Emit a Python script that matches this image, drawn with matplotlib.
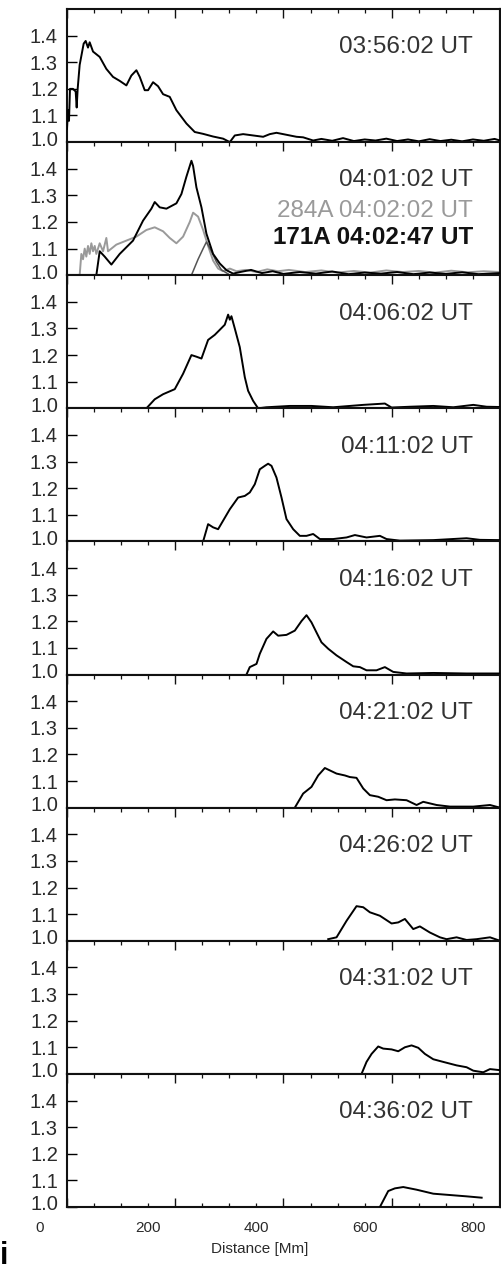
import matplotlib
matplotlib.use("Agg")
import matplotlib.pyplot as plt
from matplotlib.transforms import ScaledTranslation
from matplotlib.ticker import MultipleLocator

plt.rcParams['font.family'] = ['Liberation Sans', 'DejaVu Sans']

# ---------------- data ----------------
times = ["03:56:02 UT", "04:01:02 UT", "04:06:02 UT", "04:11:02 UT", "04:16:02 UT",
         "04:21:02 UT", "04:26:02 UT", "04:31:02 UT", "04:36:02 UT"]
label_284 = "284A 04:02:02 UT"
label_171 = "171A 04:02:47 UT"

x1 = [0, 1.8, 3.7, 5.5, 11.1, 16.0, 17.9, 19.7, 23.4, 30.8, 34.5, 38.8, 41.9, 48.1, 60.4, 72.7,
      85.0, 97.4, 109.7, 118.9, 128.2, 134.4, 143.6, 149.8, 159.0, 168.2, 177.5, 189.8, 202.1,
      220.6, 236.0, 251.5, 269.9, 288.4, 300.8, 310.0, 325.4, 343.9, 362.4, 374.7, 387.0, 399.4,
      411.7, 424.0, 436.3, 454.8, 470, 490, 510, 530, 550, 570, 590, 610, 630, 650, 670, 690,
      710, 730, 750, 770, 790, 800]
y1 = [1.05, 1.12, 1.08, 1.20, 1.20, 1.19, 1.13, 1.20, 1.29, 1.37, 1.38, 1.355, 1.375, 1.34, 1.32,
      1.275, 1.245, 1.23, 1.213, 1.25, 1.27, 1.245, 1.195, 1.195, 1.225, 1.21, 1.18, 1.17, 1.12,
      1.07, 1.038, 1.031, 1.021, 1.013, 1.0, 1.025, 1.03, 1.025, 1.02, 1.03, 1.035, 1.03, 1.025,
      1.02, 1.018, 1.006, 1.012, 1.005, 1.015, 1.004, 1.01, 1.006, 1.013, 1.004, 1.01, 1.003,
      1.011, 1.004, 1.009, 1.003, 1.01, 1.005, 1.012, 1.006]

x2 = [54.2, 60.4, 69.6, 82.0, 97.4, 122.0, 140.5, 155.9, 162.1, 171.3, 183.7, 202.1, 211.4, 220.6,
      229.9, 233.0, 239.1, 248.4, 257.6, 269.9, 282.3, 294.6, 306.9, 320, 340, 360, 380, 400, 430,
      460, 490, 520, 550, 580, 610, 640, 670, 700, 730, 760, 800]
y2 = [1.0, 1.09, 1.07, 1.04, 1.08, 1.13, 1.205, 1.25, 1.275, 1.255, 1.25, 1.27, 1.305, 1.37, 1.43,
      1.41, 1.33, 1.255, 1.156, 1.08, 1.044, 1.019, 1.006, 1.012, 1.02, 1.008, 1.015, 1.005, 1.012,
      1.006, 1.014, 1.004, 1.01, 1.006, 1.012, 1.004, 1.01, 1.005, 1.011, 1.004, 1.008]

x2_284 = [23.4, 26.5, 29.6, 32.7, 35.7, 38.8, 41.9, 45.0, 48.1, 51.2, 54.2, 60.4, 66.6, 72.7, 75.8,
          82.0, 91.2, 109.7, 128.2, 146.7, 162.1, 177.5, 189.8, 202.1, 214.5, 226.8, 233.0, 242.2,
          251.5, 260.7, 269.9, 279.2, 288.4, 300.8, 313.1, 330, 350, 370, 390, 410, 440, 470, 500,
          530, 560, 590, 620, 650, 680, 710, 740, 770, 800]
y2_284 = [1.0, 1.08, 1.06, 1.10, 1.07, 1.11, 1.08, 1.12, 1.09, 1.11, 1.08, 1.12, 1.09, 1.14, 1.09,
          1.10, 1.115, 1.13, 1.145, 1.17, 1.18, 1.165, 1.14, 1.12, 1.145, 1.20, 1.235, 1.22, 1.17,
          1.11, 1.055, 1.025, 1.015, 1.025, 1.015, 1.02, 1.012, 1.022, 1.015, 1.02, 1.012, 1.018,
          1.01, 1.016, 1.01, 1.018, 1.012, 1.016, 1.01, 1.017, 1.011, 1.015, 1.012]

x2_171 = [229.9, 242.2, 251.5, 257.6, 266.9, 276.1, 285.4, 297.7]
y2_171 = [1.0, 1.06, 1.10, 1.125, 1.09, 1.05, 1.02, 1.005]

x3 = [146.7, 162.1, 177.5, 199.1, 214.5, 229.9, 239.1, 248.4, 260.7, 273.0, 282.3, 291.5, 297.7,
      300.8, 303.8, 310.0, 319.2, 328.5, 334.6, 343.9, 353.1, 368.5, 411.7, 451.7, 491.8, 522.6,
      547.3, 587.3, 599.7, 633.6, 676.7, 713.7, 750.7, 775.3, 800]
y3 = [1.0, 1.034, 1.053, 1.072, 1.13, 1.2, 1.194, 1.187, 1.257, 1.276, 1.295, 1.314, 1.352, 1.333,
      1.346, 1.3, 1.23, 1.117, 1.066, 1.028, 1.0, 1.004, 1.009, 1.009, 1.004, 1.009, 1.013, 1.018,
      1.003, 1.006, 1.009, 1.004, 1.013, 1.006, 1.005]

x4 = [251.5, 260.7, 269.9, 279.2, 288.4, 300.8, 316.2, 328.5, 337.7, 347.0, 356.2, 365.5, 371.6,
      377.8, 387.0, 396.3, 405.5, 417.9, 430.2, 442.5, 454.8, 467.2, 491.8, 516.5, 531.9, 553.4,
      578.1, 590.4, 615.1, 676.7, 738.3, 763.0, 800]
y4 = [1.0, 1.065, 1.053, 1.046, 1.078, 1.121, 1.165, 1.171, 1.184, 1.215, 1.271, 1.284, 1.292,
      1.284, 1.24, 1.165, 1.084, 1.046, 1.021, 1.021, 1.028, 1.009, 1.009, 1.015, 1.024, 1.015,
      1.021, 1.009, 1.003, 1.005, 1.012, 1.006, 1.005]

x5 = [331.6, 337.7, 350.1, 356.2, 368.5, 380.9, 390.1, 405.5, 420.9, 433.3, 442.5, 451.7, 461.0,
      470.2, 482.6, 498.0, 516.5, 528.8, 541.1, 553.4, 571.9, 587.3, 602.7, 627.4, 676.7, 738.3, 800]
y5 = [1.0, 1.028, 1.04, 1.078, 1.134, 1.162, 1.146, 1.149, 1.165, 1.201, 1.223, 1.196, 1.158,
      1.121, 1.097, 1.072, 1.047, 1.031, 1.028, 1.016, 1.016, 1.028, 1.01, 1.004, 1.006, 1.004, 1.004]

x6 = [420.9, 436.3, 451.7, 464.1, 476.4, 485.6, 498.0, 513.4, 522.6, 534.9, 547.3, 559.6, 575.0,
      590.4, 605.8, 627.4, 645.9, 658.2, 682.9, 707.5, 750.7, 781.5, 800]
y6 = [1.0, 1.053, 1.078, 1.121, 1.149, 1.14, 1.128, 1.121, 1.115, 1.112, 1.072, 1.047, 1.041,
      1.028, 1.031, 1.028, 1.01, 1.022, 1.01, 1.004, 1.004, 1.01, 1.0]

x7 = [482.6, 498.0, 516.5, 534.9, 547.3, 559.6, 578.1, 599.7, 612.0, 624.3, 639.7, 652.0, 670.5,
      689.0, 701.3, 719.8, 738.3, 756.8, 781.5, 800]
y7 = [1.006, 1.013, 1.075, 1.13, 1.126, 1.107, 1.094, 1.065, 1.069, 1.082, 1.044, 1.054, 1.031,
      1.013, 1.006, 1.013, 1.003, 1.006, 1.013, 1.0]

x8 = [544.2, 553.4, 562.7, 575.0, 584.2, 599.7, 612.0, 624.3, 636.6, 649.0, 661.3, 676.7, 695.2,
      719.8, 738.3, 750.7, 769.1, 781.5, 800]
y8 = [1.0, 1.045, 1.075, 1.103, 1.095, 1.092, 1.085, 1.1, 1.107, 1.098, 1.075, 1.055, 1.045,
      1.032, 1.025, 1.012, 1.006, 1.018, 1.014]

x9 = [578.1, 593.5, 605.8, 621.2, 645.9, 676.7, 707.5, 738.3, 766.1]
y9 = [1.0, 1.06, 1.07, 1.075, 1.065, 1.05, 1.045, 1.04, 1.035]

series = [(x1, y1), (x2, y2), (x3, y3), (x4, y4), (x5, y5), (x6, y6), (x7, y7), (x8, y8), (x9, y9)]

yticks = [1.0, 1.1, 1.2, 1.3, 1.4]
ytick_labels = ["1.0", "1.1", "1.2", "1.3", "1.4"]
xticks = [0, 200, 400, 600, 800]
xtick_labels = ["0", "200", "400", "600", "800"]
xlabel = "Distance [Mm]"

# ---------------- layout ----------------
W, H = 502, 1271
fig = plt.figure(figsize=(W / 100, H / 100), dpi=100)
left_px, right_px = 67, 500
top_px, bottom_px = 9, 1207
n = 9
ph = (bottom_px - top_px) / n

text_col = '#2a2a2a'
axes = []
for i in range(n):
    t = top_px + i * ph
    ax = fig.add_axes([left_px / W, 1 - (t + ph) / H, (right_px - left_px) / W, ph / H])
    axes.append(ax)
    ax.set_xlim(0, 800)
    ax.set_ylim(1.0, 1.5)
    for s in ax.spines.values():
        s.set_linewidth(1.5)
        s.set_color('#111111')
    ax.xaxis.set_major_locator(MultipleLocator(200))
    ax.xaxis.set_minor_locator(MultipleLocator(50))
    ax.set_yticks(yticks)
    ax.set_yticklabels(ytick_labels)
    last = (i == n - 1)
    ax.tick_params(axis='x', which='both', direction='in', top=True, bottom=last,
                   labelbottom=last, colors='#111111', labelcolor=text_col, labelsize=11)
    ax.tick_params(axis='x', which='major', length=6.5, width=1.0, pad=10)
    ax.tick_params(axis='x', which='minor', length=3.2, width=0.9)
    ax.tick_params(axis='y', which='major', direction='in', left=True, right=False,
                   length=7.2, width=1.0, labelsize=14.5, pad=6.5, labelcolor=text_col)
    # right-hand short ticks
    ax2 = ax.secondary_yaxis('right')
    ax2.set_yticks(yticks)
    ax2.tick_params(direction='out', length=6, width=1.0, labelright=False)
    ax2.spines['right'].set_linewidth(1.5)
    # nudge the 1.0 label up a little
    lab0 = ax.get_yticklabels()[0]
    lab0.set_transform(lab0.get_transform() + ScaledTranslation(0, 4 / 100, fig.dpi_scale_trans))

    xs, ys = series[i]
    if i == 1:
        ax.plot(x2_284, y2_284, color='#9a9a9a', lw=1.4, zorder=2, clip_on=True)
        ax.plot(x2_171, y2_171, color='#555555', lw=1.1, zorder=3)
    ax.plot(xs, ys, color='black', lw=1.4, zorder=4)

    ax.text(0.938, 0.667, times[i], transform=ax.transAxes, ha='right', va='baseline',
            fontsize=17.5, color='#333333')
    if i == 1:
        ax.text(0.938, 0.439, label_284, transform=ax.transAxes, ha='right', va='baseline',
                fontsize=17.5, color='#9a9a9a')
        ax.text(0.938, 0.232, label_171, transform=ax.transAxes, ha='right', va='baseline',
                fontsize=17.5, color='#111111', fontweight='bold')

axl = axes[-1]
axl.set_xticks(xticks)
axl.set_xticklabels(xtick_labels)
# the bottom labels in the reference sit about 27 px left of their ticks
shift = ScaledTranslation(-27 / 100, 0, fig.dpi_scale_trans)
for lab in axl.get_xticklabels():
    lab.set_transform(lab.get_transform() + shift)
axl.set_xlabel(xlabel, fontsize=11, color=text_col, labelpad=5)
axl.xaxis.label.set_transform(axl.xaxis.label.get_transform()
                              + ScaledTranslation(-24 / 100, 0, fig.dpi_scale_trans))

fig.text(0.0, 0.0, "i", fontsize=22, fontweight='bold', ha='left', va='bottom', color='black')

fig.savefig("out.png", dpi=100)
